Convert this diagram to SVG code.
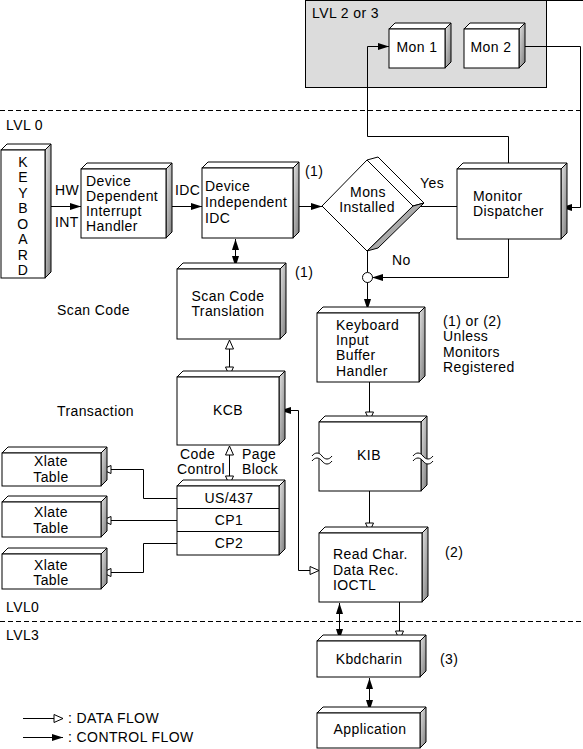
<svg xmlns="http://www.w3.org/2000/svg" width="583" height="749" viewBox="0 0 583 749">
<style>
text{font-family:"Liberation Sans",Arial,Helvetica,sans-serif;font-size:14px;letter-spacing:0.4px;fill:#000}
.c{text-anchor:middle}
.top{fill:#fff;stroke:#000;stroke-width:1}
.side{fill:url(#sg);stroke:#000;stroke-width:1}
.front{fill:#fff;stroke:#000;stroke-width:1}
.ln{fill:none;stroke:#000;stroke-width:1}
.dash{fill:none;stroke:#000;stroke-width:1;stroke-dasharray:5,3}
.f{marker-end:url(#af)}
.h{marker-end:url(#ah)}
.ff{marker-start:url(#af);marker-end:url(#af)}
.hh{marker-start:url(#ah);marker-end:url(#ah)}
</style>
<defs>
<linearGradient id="sg" x1="0" y1="0" x2="1" y2="1">
<stop offset="0" stop-color="#e6e6e6"/>
<stop offset="1" stop-color="#7c7c7c"/>
</linearGradient>
<marker id="af" viewBox="0 0 11 7" refX="11" refY="3.5" markerWidth="11" markerHeight="7" markerUnits="userSpaceOnUse" orient="auto-start-reverse">
<path d="M0,0L11,3.5L0,7z" fill="#000"/>
</marker>
<marker id="ah" viewBox="-1 -1 11 10" refX="9" refY="4" markerWidth="11" markerHeight="10" markerUnits="userSpaceOnUse" orient="auto-start-reverse">
<path d="M0,0L9,4L0,8z" fill="#fff" stroke="#000" stroke-width="1"/>
</marker>
</defs>
<rect width="583" height="749" fill="#fff"/>

<g id="lvl23">
<rect x="305.5" y="0.5" width="241" height="87" fill="#dcdcdc" stroke="#000"/>
<line x1="546" y1="0.5" x2="583" y2="0.5" stroke="#000"/>
<text x="312" y="18">LVL 2 or 3</text>
</g>
<g id="levels">
<line class="dash" x1="0" y1="110.5" x2="583" y2="110.5"/>
<line class="dash" x1="0" y1="621.5" x2="583" y2="621.5"/>
<text x="6" y="130">LVL 0</text>
<text x="6" y="612">LVL0</text>
<text x="6" y="640">LVL3</text>
</g>

<g id="connectors">
<path class="ln f" d="M51,206.5H81"/>
<path class="ln f" d="M171,206.5H202"/>
<path class="ln f" d="M299,206.5H322"/>
<path class="ln" d="M420,206.5H457"/>
<path class="ln ff" d="M235.5,239V267"/>
<path class="ln f" d="M508.5,163V136.5H367.5V46.5H389"/>
<path class="ln f" d="M525,46.5H580.5V207.5H561"/>
<path class="ln f" d="M508.5,239V277.5H372"/>
<path class="ln" d="M367.5,251V272"/>
<path class="ln f" d="M367.5,282V310"/>
<path class="ln hh" d="M229.5,340V376"/>
<path class="ln hh" d="M229.5,446V485"/>
<path class="ln" style="marker-start:url(#af);marker-end:url(#ah)" d="M280,410.5H298.5V570.5H319"/>
<path class="ln h" d="M177,498.5H143.5V469.5H102"/>
<path class="ln h" d="M177,520.5H102"/>
<path class="ln h" d="M177,543.5H143.5V572.5H102"/>
<path class="ln h" d="M369.5,382V421"/>
<path class="ln h" d="M369.5,491V532"/>
<path class="ln ff" d="M339.5,603V640"/>
<path class="ln h" d="M399.5,602V640"/>
<path class="ln ff" d="M369.5,678V711"/>
<circle cx="367.5" cy="277.5" r="5" fill="#fff" stroke="#000"/>
</g>

<g id="keyboard">
<polygon class="top" points="1,150 7,144 51,144 45,150"/>
<polygon class="side" points="45,150 51,144 51,272 45,278"/>
<rect class="front" x="1" y="150" width="44" height="128"/>
<text class="c" x="23" y="167">K</text>
<text class="c" x="23" y="182.4">E</text>
<text class="c" x="23" y="197.9">Y</text>
<text class="c" x="23" y="213.3">B</text>
<text class="c" x="23" y="228.7">O</text>
<text class="c" x="23" y="244.1">A</text>
<text class="c" x="23" y="259.6">R</text>
<text class="c" x="23" y="275">D</text>
</g>
<g id="hwint">
<text x="55" y="195">HW</text>
<text x="55" y="227">INT</text>
<text x="175" y="195">IDC</text>
</g>

<g id="dd">
<polygon class="top" points="81,169 87,163 172,163 166,169"/>
<polygon class="side" points="166,169 172,163 172,232 166,238"/>
<rect class="front" x="81" y="169" width="85" height="69"/>
<text x="86" y="186">Device</text>
<text x="86" y="201">Dependent</text>
<text x="86" y="216">Interrupt</text>
<text x="86" y="231">Handler</text>
</g>

<g id="dii">
<polygon class="top" points="202,168 208,162 299,162 293,168"/>
<polygon class="side" points="293,168 299,162 299,232 293,238"/>
<rect class="front" x="202" y="168" width="91" height="70"/>
<text x="205" y="191">Device</text>
<text x="205" y="207">Independent</text>
<text x="205" y="223">IDC</text>
<text x="305" y="176">(1)</text>
</g>

<g id="mons">
<polygon points="367,160 378,157 424,203 413,206" fill="#fff" stroke="#000"/>
<polygon points="413,206 424,203 378,248 367,251" fill="#ababab" stroke="#000"/>
<polygon points="322,206 367,160 413,206 367,251" fill="#fff" stroke="#000"/>
<text class="c" x="368" y="197">Mons</text>
<text class="c" x="367" y="212">Installed</text>
<text x="420" y="188">Yes</text>
<text x="392" y="265">No</text>
</g>

<g id="mon1">
<polygon class="top" points="389,29 395,23 451,23 445,29"/>
<polygon class="side" points="445,29 451,23 451,62 445,68"/>
<rect class="front" x="389" y="29" width="56" height="39"/>
<text class="c" x="417" y="52">Mon 1</text>
</g>
<g id="mon2">
<polygon class="top" points="464,29 470,23 525,23 519,29"/>
<polygon class="side" points="519,29 525,23 525,62 519,68"/>
<rect class="front" x="464" y="29" width="55" height="39"/>
<text class="c" x="491" y="52">Mon 2</text>
</g>

<g id="dispatcher">
<polygon class="top" points="457,169 463,163 567,163 561,169"/>
<polygon class="side" points="561,169 567,163 567,233 561,239"/>
<rect class="front" x="457" y="169" width="104" height="70"/>
<text x="473" y="201">Monitor</text>
<text x="473" y="216">Dispatcher</text>
</g>

<g id="sct">
<polygon class="top" points="177,269 183,263 286,263 280,269"/>
<polygon class="side" points="280,269 286,263 286,333 280,339"/>
<rect class="front" x="177" y="269" width="103" height="70"/>
<text class="c" x="228" y="301">Scan Code</text>
<text class="c" x="228" y="316">Translation</text>
<text x="295" y="277">(1)</text>
</g>
<g id="labels">
<text x="57" y="315">Scan Code</text>
<text x="57" y="416">Transaction</text>
</g>

<g id="kcb">
<polygon class="top" points="177,377 183,371 285,371 279,377"/>
<polygon class="side" points="279,377 285,371 285,439 279,445"/>
<rect class="front" x="177" y="377" width="102" height="68"/>
<text class="c" x="228" y="415">KCB</text>
<text x="180" y="459">Code</text>
<text x="177" y="474">Control</text>
<text x="242" y="459">Page</text>
<text x="242" y="474">Block</text>
</g>

<g id="codepages">
<polygon class="top" points="177,486 183,480 285,480 279,486"/>
<polygon class="side" points="279,486 285,480 285,549 279,555"/>
<rect class="front" x="177" y="486" width="102" height="69"/>
<line class="ln" x1="177" y1="508.5" x2="279" y2="508.5"/>
<line class="ln" x1="177" y1="531.5" x2="279" y2="531.5"/>
<text class="c" x="229" y="503">US/437</text>
<text class="c" x="229" y="525">CP1</text>
<text class="c" x="229" y="548">CP2</text>
</g>

<g id="xlate1">
<polygon class="top" points="2,453 8,447 107,447 101,453"/>
<polygon class="side" points="101,453 107,447 107,480 101,486"/>
<rect class="front" x="2" y="453" width="99" height="33"/>
<text class="c" x="51" y="466">Xlate</text>
<text class="c" x="51" y="482">Table</text>
</g>
<g id="xlate2">
<polygon class="top" points="2,502 8,496 107,496 101,502"/>
<polygon class="side" points="101,502 107,496 107,531 101,537"/>
<rect class="front" x="2" y="502" width="99" height="35"/>
<text class="c" x="51" y="517">Xlate</text>
<text class="c" x="51" y="533">Table</text>
</g>
<g id="xlate3">
<polygon class="top" points="2,554 8,548 107,548 101,554"/>
<polygon class="side" points="101,554 107,548 107,583 101,589"/>
<rect class="front" x="2" y="554" width="99" height="35"/>
<text class="c" x="51" y="570">Xlate</text>
<text class="c" x="51" y="585">Table</text>
</g>

<g id="kibh">
<polygon class="top" points="317,313 323,307 425,307 419,313"/>
<polygon class="side" points="419,313 425,307 425,376 419,382"/>
<rect class="front" x="317" y="313" width="102" height="69"/>
<text x="336" y="330">Keyboard</text>
<text x="336" y="345">Input</text>
<text x="336" y="360">Buffer</text>
<text x="336" y="376">Handler</text>
<text x="443" y="326">(1) or (2)</text>
<text x="443" y="341">Unless</text>
<text x="443" y="357">Monitors</text>
<text x="443" y="372">Registered</text>
</g>

<g id="kib">
<polygon class="top" points="319,422 325,416 427,416 421,422"/>
<polygon class="side" points="421,422 427,416 427,485 421,491"/>
<rect class="front" x="319" y="422" width="102" height="69"/>
<text class="c" x="369" y="460">KIB</text>
<path d="M312,456c3,-4 7,-4 10,0s7,4 10,0V461c-3,4 -7,4 -10,0s-7,-4 -10,0z" fill="#fff"/>
<path class="ln" d="M312,456c3,-4 7,-4 10,0s7,4 10,0M312,461c3,-4 7,-4 10,0s7,4 10,0"/>
<path d="M413,456c3,-4 7,-4 10,0s7,4 10,0V461c-3,4 -7,4 -10,0s-7,-4 -10,0z" fill="#fff"/>
<path class="ln" d="M413,456c3,-4 7,-4 10,0s7,4 10,0M413,461c3,-4 7,-4 10,0s7,4 10,0"/>
</g>

<g id="readchar">
<polygon class="top" points="319,533 325,527 428,527 422,533"/>
<polygon class="side" points="422,533 428,527 428,596 422,602"/>
<rect class="front" x="319" y="533" width="103" height="69"/>
<text x="333" y="559">Read Char.</text>
<text x="333" y="575">Data Rec.</text>
<text x="333" y="590">IOCTL</text>
<text x="445" y="557">(2)</text>
</g>

<g id="kbdcharin">
<polygon class="top" points="317,641 323,635 426,635 420,641"/>
<polygon class="side" points="420,641 426,635 426,671 420,677"/>
<rect class="front" x="317" y="641" width="103" height="36"/>
<text class="c" x="369" y="664">Kbdcharin</text>
<text x="440" y="664">(3)</text>
</g>

<g id="application">
<polygon class="top" points="317,713 323,707 426,707 420,713"/>
<polygon class="side" points="420,713 426,707 426,742 420,748"/>
<rect class="front" x="317" y="713" width="103" height="35"/>
<text class="c" x="370" y="734">Application</text>
</g>

<g id="legend">
<path class="ln h" d="M23,718.5H63"/>
<path class="ln f" d="M23,737.5H63"/>
<text x="68" y="723">: DATA FLOW</text>
<text x="68" y="742">: CONTROL FLOW</text>
</g>
</svg>
